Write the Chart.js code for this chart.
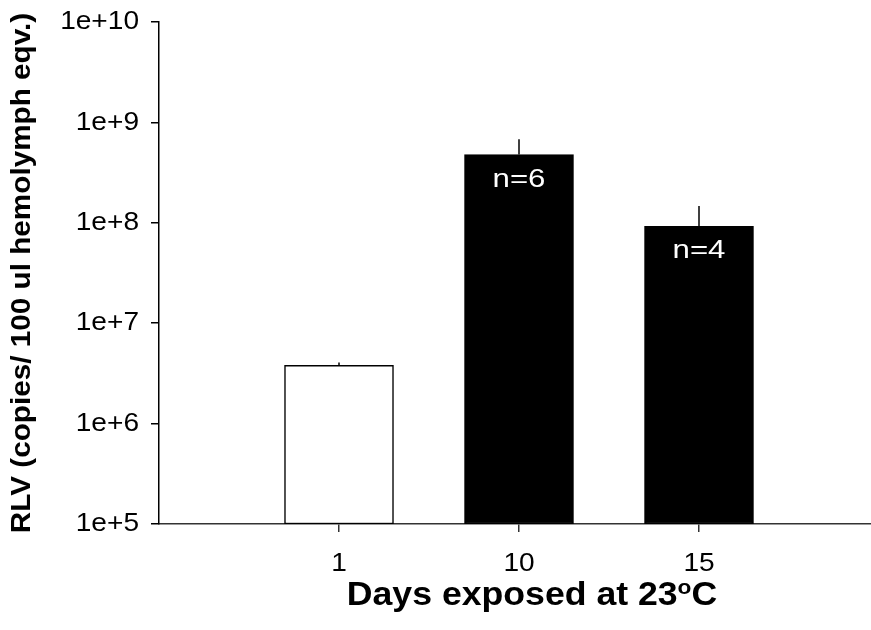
<!DOCTYPE html>
<html>
<head>
<meta charset="utf-8">
<script src="https://cdn.jsdelivr.net/npm/chart.js@4/dist/chart.umd.min.js"></script>
<style>
  html, body { margin: 0; padding: 0; background: #ffffff; }
  #wrap { width: 871px; height: 630px; }
</style>
</head>
<body>
<div id="wrap"><canvas id="c" width="871" height="630"></canvas></div>
<script>
const categories = ['1', '10', '15'];
const values = [3.81e6, 4.78e8, 9.23e7];
const errorUpper = [4.05e6, 6.79e8, 1.47e8];
const nLabels = ['', 'n=6', 'n=4'];
const barColors = ['#ffffff', '#000000', '#000000'];
const yTickValues = [1e5, 1e6, 1e7, 1e8, 1e9, 1e10];
const yTickLabels = ['1e+5', '1e+6', '1e+7', '1e+8', '1e+9', '1e+10'];
const yTitle = 'RLV (copies/ 100 ul hemolymph eqv.)';
const xTitleMain = 'Days exposed at 23';
const xTitleSup = 'o';
const xTitleEnd = 'C';

const FONT = "'Liberation Sans', Arial, sans-serif";

// The reference face is slightly wider than Arial: widen text a little in glyph space.
const canvas = document.getElementById('c');
const ctx0 = canvas.getContext('2d');
let stretchOverride = null;
const origFill = ctx0.fillText.bind(ctx0);
const origMeasure = ctx0.measureText.bind(ctx0);
function currentStretch(c) {
  if (stretchOverride) return stretchOverride;
  return /bold/.test(c.font) ? 1.08 : 1.08;
}
ctx0.fillText = function (text, x, y, maxWidth) {
  const k = currentStretch(this);
  this.save();
  this.translate(x, y);
  this.scale(k, 1);
  if (maxWidth !== undefined) origFill(text, 0, 0, maxWidth / k);
  else origFill(text, 0, 0);
  this.restore();
};
function stretchedWidth(c, t) { return origMeasure(t).width * currentStretch(c); }

const overlay = {
  id: 'overlay',
  afterDatasetsDraw(chart) {
    const ctx = chart.ctx;
    const meta = chart.getDatasetMeta(0);
    const y = chart.scales.y;
    ctx.save();
    ctx.strokeStyle = '#000';
    ctx.lineWidth = 1.5;
    meta.data.forEach((bar, i) => {
      const top = y.getPixelForValue(values[i]);
      const eTop = y.getPixelForValue(errorUpper[i]);
      ctx.beginPath();
      ctx.moveTo(bar.x, top);
      ctx.lineTo(bar.x, eTop);
      ctx.stroke();
    });
    ctx.fillStyle = '#ffffff';
    ctx.font = '26px ' + FONT;
    ctx.textAlign = 'center';
    ctx.textBaseline = 'alphabetic';
    stretchOverride = 1.2;
    meta.data.forEach((bar, i) => {
      if (!nLabels[i]) return;
      const top = y.getPixelForValue(values[i]);
      ctx.fillText(nLabels[i], bar.x, top + 32);
    });
    stretchOverride = null;
    const ca = chart.chartArea;
    const mainFont = 'bold 33px ' + FONT;
    const supFont = 'bold 21px ' + FONT;
    ctx.fillStyle = '#000';
    ctx.textAlign = 'left';
    ctx.font = mainFont;
    const w1 = stretchedWidth(ctx, xTitleMain);
    const w3 = stretchedWidth(ctx, xTitleEnd);
    ctx.font = supFont;
    const w2 = stretchedWidth(ctx, xTitleSup);
    const total = w1 + w2 + w3;
    const cx = (ca.left + ca.right) / 2 + 17;
    const x0 = cx - total / 2;
    const base = 605;
    ctx.font = mainFont;
    ctx.fillText(xTitleMain, x0, base);
    ctx.font = supFont;
    ctx.fillText(xTitleSup, x0 + w1, base - 11);
    ctx.font = mainFont;
    ctx.fillText(xTitleEnd, x0 + w1 + w2, base);
    ctx.restore();
  }
};

new Chart(canvas, {
  type: 'bar',
  data: {
    datasets: [{
      data: categories.map((c, i) => ({ x: i + 1, y: values[i] })),
      backgroundColor: barColors,
      borderColor: '#000000',
      borderWidth: 1.5,
      borderSkipped: false,
      barThickness: 109
    }]
  },
  options: {
    responsive: false,
    animation: false,
    devicePixelRatio: 1,
    layout: { padding: { top: 22, left: 0, right: 0, bottom: 0 } },
    plugins: { legend: { display: false }, tooltip: { enabled: false } },
    scales: {
      x: {
        type: 'linear',
        min: 0,
        max: 712 / 180,
        offset: false,
        afterBuildTicks: (s) => { s.ticks = categories.map((c, i) => ({ value: i + 1 })); },
        afterFit: (s) => { s.height = 106; s.paddingLeft = 0; s.paddingRight = 0; },
        grid: { offset: false, drawOnChartArea: false, drawTicks: true, tickLength: 8, color: '#333', lineWidth: 1.5 },
        border: { display: true, color: '#333', width: 1.5 },
        ticks: {
          autoSkip: false,
          maxRotation: 0,
          padding: 16.5,
          color: '#000',
          font: { family: FONT, size: 26 },
          callback: (v) => categories[Math.round(v) - 1]
        }
      },
      y: {
        type: 'logarithmic',
        min: 1e5,
        max: 1e10,
        afterBuildTicks: (s) => { s.ticks = yTickValues.map(v => ({ value: v, major: true })); },
        afterFit: (s) => { s.width = 159; s.paddingTop = 0; s.paddingBottom = 0; },
        grid: { drawOnChartArea: false, drawTicks: true, tickLength: 8, color: '#000', lineWidth: 1.5 },
        border: { display: true, color: '#000', width: 1.5 },
        ticks: {
          autoSkip: false,
          padding: 12,
          color: '#000',
          font: { family: FONT, size: 26 },
          callback: (v) => { const i = yTickValues.indexOf(v); return i >= 0 ? yTickLabels[i] : ''; }
        },
        title: {
          display: true,
          text: yTitle,
          color: '#000',
          font: { family: FONT, size: 27.5, weight: 'bold' },
          padding: { top: 6, bottom: 0 }
        }
      }
    }
  },
  plugins: [overlay]
});
</script>
</body>
</html>
